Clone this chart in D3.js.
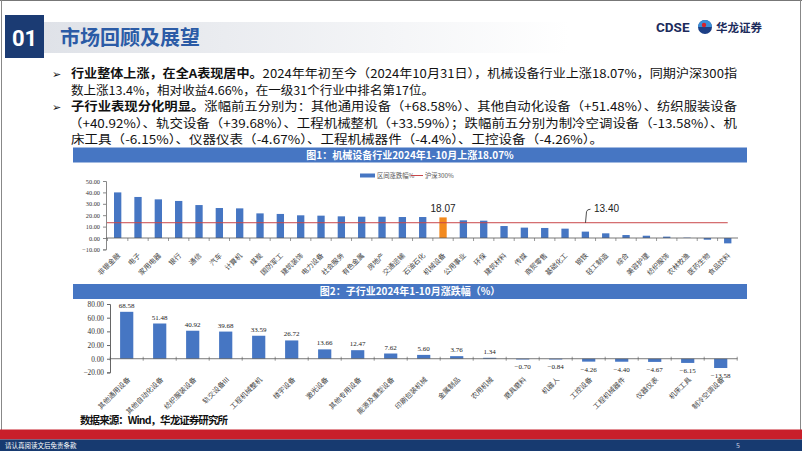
<!DOCTYPE html>
<html>
<head>
<meta charset="utf-8">
<script src="https://cdn.jsdelivr.net/npm/d3@7"></script>
<style>
body { margin:0; background:#fff; }
svg { display:block; font-family:"Noto Sans CJK SC", "Noto Sans", sans-serif; }
</style>
</head>
<body>
<svg id="page"></svg>
<script>
// chart 1: first-level industries, 2024/1-10 change (%)
var industries = ["非银金融","电子","家用电器","银行","通信","汽车","计算机","煤炭","国防军工","建筑装饰",
    "电力设备","社会服务","有色金属","房地产","交通运输","石油石化","机械设备","公用事业","环保","建筑材料",
    "传媒","商贸零售","基础化工","钢铁","轻工制造","综合","美容护理","纺织服饰","农林牧渔","医药生物","食品饮料"];
var industryChange = [40.0,36.0,33.9,32.5,28.9,26.3,26.0,21.6,21.1,19.9,
    19.6,19.0,18.7,18.7,18.4,18.4,18.07,15.5,15.2,10.5,
    9.1,8.8,8.2,5.6,4.1,2.6,2.0,1.2,0.3,-1.5,-4.7];
var hs300 = 13.40;
var highlight = "机械设备";
var yTicks1 = [-10,0,10,20,30,40,50];

// chart 2: sub-industries
var subIndustries = ["其他通用设备","其他自动化设备","纺织服装设备","轨交设备III","工程机械整机","楼宇设备",
    "激光设备","其他专用设备","能源及重型设备","印刷包装机械","金属制品","农用机械","磨具磨料","机器人",
    "工控设备","工程机械器件","仪器仪表","机床工具","制冷空调设备"];
var subChange = [68.58,51.48,40.92,39.68,33.59,26.72,13.66,12.47,7.62,5.60,3.76,1.34,-0.70,-0.84,
    -4.26,-4.40,-4.67,-6.15,-13.58];
var yTicks2 = [-20,0,20,40,60,80];

var blue = "#4676c3", orange = "#f28a1f", red = "#c9474a";

var svg = d3.select("#page").attr("width",802).attr("height",451);

// ---------- page frame & header ----------
var grad = svg.append("defs").append("linearGradient").attr("id","band");
grad.append("stop").attr("offset","0%").attr("stop-color","#dfe2e8");
grad.append("stop").attr("offset","75%").attr("stop-color","#ffffff");
svg.append("rect").attr("x",44).attr("y",22).attr("width",700).attr("height",31).attr("fill","url(#band)");
svg.append("rect").attr("x",5).attr("y",15).attr("width",39).attr("height",43).attr("fill","#1b3b73");
svg.append("text").text("01").attr("x",24.5).attr("y",46).attr("text-anchor","middle")
    .attr("fill","#fff").attr("font-size",22).attr("font-weight","bold").attr("font-family","Roboto, sans-serif");
svg.append("text").text("市场回顾及展望").attr("x",60).attr("y",45)
    .attr("fill","#2b5ba6").attr("font-size",20).attr("font-weight","bold");

// logo
svg.append("text").text("CDSE").attr("x",656).attr("y",32).attr("font-size",13.5)
    .attr("font-weight","bold").attr("fill","#1c2b5c").attr("font-family","Roboto, sans-serif");
svg.append("circle").attr("cx",705).attr("cy",27).attr("r",7).attr("fill","#1c3f86");
svg.append("path").attr("d","M698,27 A7,7 0 0 1 712,27 L705,27 Z").attr("fill","#3a8fd8");
svg.append("circle").attr("cx",704).attr("cy",25).attr("r",2.2).attr("fill","#d5242c");
svg.append("text").text("华龙证券").attr("x",716).attr("y",32).attr("font-size",11.5)
    .attr("font-weight","bold").attr("fill","#1c2b5c").attr("textLength",46);

svg.append("line").attr("x1",0).attr("x2",802).attr("y1",0.5).attr("y2",0.5).attr("stroke","#777");
svg.append("line").attr("x1",1.5).attr("x2",1.5).attr("y1",0).attr("y2",430).attr("stroke","#888");
svg.append("line").attr("x1",800.5).attr("x2",800.5).attr("y1",0).attr("y2",430).attr("stroke","#888");

// ---------- bullet text ----------
var bullets = [
    {x:71, y:78, w:666, bold:"行业整体上涨，在全A表现居中。", rest:"2024年年初至今（2024年10月31日），机械设备行业上涨18.07%，同期沪深300指", mark:true},
    {x:71, y:94.5, w:363, bold:"", rest:"数上涨13.4%，相对收益4.66%，在一级31个行业中排名第17位。"},
    {x:71, y:111, w:666, bold:"子行业表现分化明显。", rest:"涨幅前五分别为：其他通用设备（+68.58%）、其他自动化设备（+51.48%）、纺织服装设备", mark:true},
    {x:69, y:127.5, w:668, bold:"", rest:"（+40.92%）、轨交设备（+39.68%）、工程机械整机（+33.59%）；跌幅前五分别为制冷空调设备（-13.58%）、机"},
    {x:71, y:143.5, w:532, bold:"", rest:"床工具（-6.15%）、仪器仪表（-4.67%）、工程机械器件（-4.4%）、工控设备（-4.26%）。"}
];
bullets.forEach(function(b)
{
    if (b.mark)
    {
        svg.append("text").text("➢").attr("x",52).attr("y",b.y).attr("font-size",11)
            .attr("font-family","DejaVu Sans, sans-serif").attr("fill","#111");
    }
    var t = svg.append("text").attr("x",b.x).attr("y",b.y).attr("font-size",12)
        .attr("fill","#111").attr("textLength",b.w).attr("lengthAdjust","spacingAndGlyphs");
    if (b.bold) t.append("tspan").attr("font-weight","bold").text(b.bold);
    t.append("tspan").text(b.rest);
});

// ---------- title bars ----------
var titleBar = function(y, label)
{
    svg.append("rect").attr("x",73).attr("y",y).attr("width",674).attr("height",15).attr("fill",blue);
    svg.append("text").text(label).attr("x",410).attr("y",y+11).attr("text-anchor","middle")
        .attr("fill","#fff").attr("font-size",10).attr("font-weight","bold");
};
titleBar(147.5, "图1：机械设备行业2024年1-10月上涨18.07%");
titleBar(284, "图2：子行业2024年1-10月涨跌幅（%）");

// ---------- chart 1 ----------
var x1 = d3.scaleBand().domain(industries).range([107.5, 737.9]).paddingInner(0.64).paddingOuter(0.32);
var y1 = d3.scaleLinear().domain([-10, 50]).range([249.4, 181]);
var g1 = svg.append("g").attr("font-size",6.5);

g1.append("g").attr("transform","translate(106,0)")
    .call(d3.axisLeft(y1).tickValues(yTicks1).tickSize(3).tickFormat(d3.format(".2f")))
    .call(function(a){ a.selectAll("text").attr("font-size",6.3).attr("fill","#333").attr("font-family","Liberation Serif, serif"); a.selectAll("line,path").attr("stroke","#888"); });

g1.selectAll(".bar").data(industries).enter().append("rect")
    .attr("x", function(d){ return x1(d); })
    .attr("width", x1.bandwidth())
    .attr("y", function(d,i){ return y1(Math.max(0, industryChange[i])); })
    .attr("height", function(d,i){ return Math.abs(y1(industryChange[i]) - y1(0)); })
    .attr("fill", function(d){ return d == highlight ? orange : blue; });

// zero axis
g1.append("line").attr("x1",106).attr("x2",738).attr("y1",y1(0)).attr("y2",y1(0)).attr("stroke","#555").attr("stroke-width",0.8);
g1.selectAll(".tk").data(industries).enter().append("line")
    .attr("x1", function(d){ return x1(d) - x1.step()*x1.paddingInner()/2; })
    .attr("x2", function(d){ return x1(d) - x1.step()*x1.paddingInner()/2; })
    .attr("y1", y1(0)).attr("y2", y1(0)+3).attr("stroke","#555").attr("stroke-width",0.6);

// hs300 line
g1.append("line").attr("x1",107).attr("x2",x1(industries[industries.length-1]) + x1.bandwidth()/2)
    .attr("y1",y1(hs300)).attr("y2",y1(hs300)).attr("stroke",red).attr("stroke-width",1);
g1.append("path").attr("d","M585.5,"+y1(hs300)+" L586.5,"+(y1(hs300)-11)+" Q587,"+(y1(hs300)-13.5)+" 590.5,"+(y1(hs300)-13.5))
    .attr("fill","none").attr("stroke","#222").attr("stroke-width",0.8);
g1.append("text").text(d3.format(".2f")(hs300)).attr("x",594).attr("y",y1(hs300)-10.5)
    .attr("font-size",10).attr("fill","#222").attr("font-family","Liberation Sans, sans-serif");

// highlight label
var hi = industries.indexOf(highlight);
g1.append("text").text(d3.format(".2f")(industryChange[hi]))
    .attr("x", x1(highlight) + x1.bandwidth()/2).attr("y", y1(industryChange[hi]) - 5)
    .attr("text-anchor","middle").attr("font-size",10).attr("fill","#222").attr("font-family","Liberation Sans, sans-serif");

// category labels
g1.selectAll(".xl").data(industries).enter().append("text")
    .text(function(d){ return d; })
    .attr("text-anchor","end").attr("fill","#444").attr("font-size",7)
    .attr("transform", function(d){ return "translate("+(x1(d)+x1.bandwidth()/2+3)+",256) rotate(-45)"; });

// legend
g1.append("rect").attr("x",360).attr("y",173.5).attr("width",15).attr("height",4).attr("fill",blue);
g1.append("text").text("区间涨跌幅%").attr("x",377).attr("y",178).attr("fill","#555").attr("font-size",6.3);
g1.append("line").attr("x1",411).attr("x2",423).attr("y1",175.5).attr("y2",175.5).attr("stroke",red);
g1.append("text").text("沪深300%").attr("x",425).attr("y",178).attr("fill","#555").attr("font-size",6.3);

// ---------- chart 2 ----------
var x2 = d3.scaleBand().domain(subIndustries).range([110.2, 737.2]).paddingInner(0.6).paddingOuter(0.3);
var y2 = d3.scaleLinear().domain([-20, 80]).range([372.4, 304]);
var g2 = svg.append("g");

g2.append("g").attr("transform","translate(110,0)")
    .call(d3.axisLeft(y2).tickValues(yTicks2).tickSize(3).tickFormat(d3.format(".2f")))
    .call(function(a){ a.selectAll("text").attr("font-size",7.3).attr("fill","#333").attr("font-family","Liberation Serif, serif"); a.selectAll("line,path").attr("stroke","#666"); });

g2.selectAll(".bar").data(subIndustries).enter().append("rect")
    .attr("x", function(d){ return x2(d); })
    .attr("width", x2.bandwidth())
    .attr("y", function(d,i){ return y2(Math.max(0, subChange[i])); })
    .attr("height", function(d,i){ return Math.max(0.8, Math.abs(y2(subChange[i]) - y2(0))); })
    .attr("fill", blue);

g2.append("line").attr("x1",110).attr("x2",737.5).attr("y1",y2(0)).attr("y2",y2(0)).attr("stroke","#555").attr("stroke-width",0.8);
g2.selectAll(".tk").data(subIndustries.concat(["end"])).enter().append("line")
    .attr("x1", function(d,i){ return x2.range()[0] + x2.step()*x2.paddingOuter() - x2.step()*x2.paddingInner()/2 + i*x2.step(); })
    .attr("x2", function(d,i){ return x2.range()[0] + x2.step()*x2.paddingOuter() - x2.step()*x2.paddingInner()/2 + i*x2.step(); })
    .attr("y1", y2(0)-2).attr("y2", y2(0)+2).attr("stroke","#555").attr("stroke-width",0.6);

g2.selectAll(".vl").data(subIndustries).enter().append("text")
    .text(function(d,i){ return d3.format(".2f")(subChange[i]); })
    .attr("x", function(d){ return x2(d) + x2.bandwidth()/2; })
    .attr("y", function(d,i){ return subChange[i] >= 0 ? y2(subChange[i]) - 4 : y2(subChange[i]) + 10; })
    .attr("text-anchor","middle").attr("font-size",7).attr("fill","#222")
    .attr("font-family","Liberation Serif, serif");

g2.selectAll(".xl").data(subIndustries).enter().append("text")
    .text(function(d){ return d; })
    .attr("text-anchor","end").attr("fill","#444").attr("font-size",7)
    .attr("transform", function(d){ return "translate("+(x2(d)+x2.bandwidth()/2+4)+",380) rotate(-45)"; });

// ---------- source & footer ----------
svg.append("text").text("数据来源：Wind，华龙证券研究所").attr("x",80).attr("y",424)
    .attr("font-size",10.5).attr("font-weight","bold").attr("fill","#111").attr("textLength",148);
svg.append("rect").attr("x",0).attr("y",429.5).attr("width",802).attr("height",10).attr("fill","#c81f2b");
svg.append("rect").attr("x",0).attr("y",439.5).attr("width",802).attr("height",12).attr("fill","#173a70");
svg.append("text").text("请认真阅读文后免责条款").attr("x",5).attr("y",448).attr("font-size",6.5).attr("fill","#fff");
svg.append("text").text("5").attr("x",736).attr("y",448).attr("font-size",7).attr("fill","#c8cfe0");
</script>
</body>
</html>
